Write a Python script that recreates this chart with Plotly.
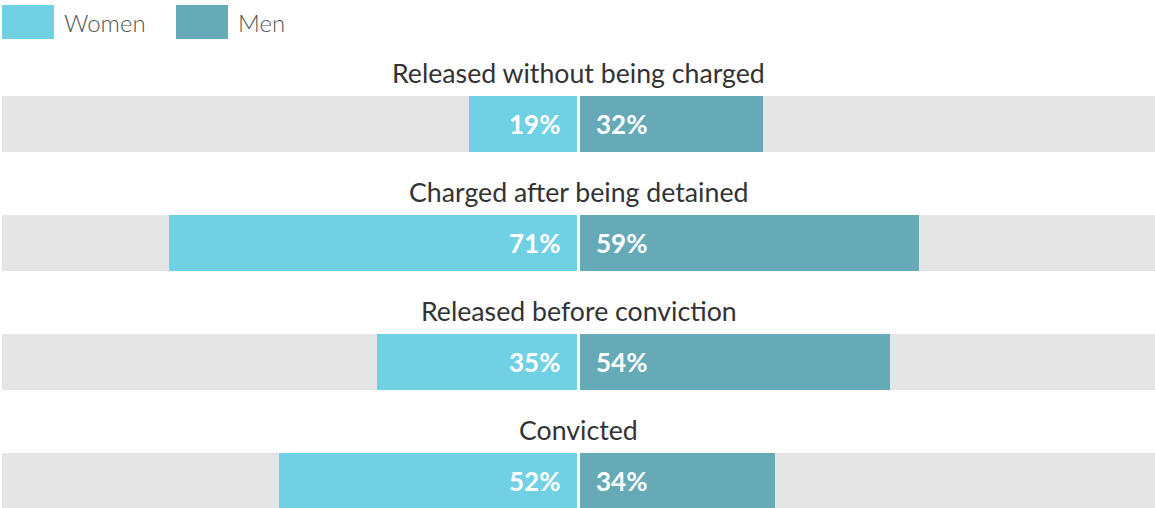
import plotly.graph_objects as go

categories = ["Released without being charged", "Charged after being detained",
              "Released before conviction", "Convicted"]
women = [19, 71, 35, 52]
men = [32, 59, 54, 34]
series_names = ["Women", "Men"]

C_WOMEN = "#71D1E4"
C_MEN = "#66A9B7"
C_BG = "#E5E5E5"

ypos = list(range(len(categories)))
BAR_W = 0.47

fig = go.Figure()
fig.add_trace(go.Bar(y=ypos, x=[200] * len(ypos), base=[-100] * len(ypos), orientation="h",
                     marker=dict(color=C_BG, line=dict(width=0)), width=BAR_W,
                     hoverinfo="skip", showlegend=False))
fig.add_trace(go.Bar(y=ypos, x=[-v for v in women], orientation="h", name=series_names[0],
                     marker=dict(color=C_WOMEN, line=dict(width=0)), width=BAR_W, showlegend=False))
fig.add_trace(go.Bar(y=ypos, x=men, orientation="h", name=series_names[1],
                     marker=dict(color=C_MEN, line=dict(width=0)), width=BAR_W, showlegend=False))

annotations = []
for i, cat in enumerate(categories):
    annotations.append(dict(x=0, y=i, xref="x", yref="y", text=cat, showarrow=False,
                            yshift=51, xanchor="center", yanchor="middle",
                            font=dict(family="Lato", size=26.7, color="#333333")))
    annotations.append(dict(x=0, y=i, xref="x", yref="y", text=f"{women[i]}%", showarrow=False,
                            xanchor="right", xshift=-17, yanchor="middle",
                            font=dict(family="Lato", size=26, color="white", weight=700)))
    annotations.append(dict(x=0, y=i, xref="x", yref="y", text=f"{men[i]}%", showarrow=False,
                            xanchor="left", xshift=15, yanchor="middle",
                            font=dict(family="Lato", size=26, color="white", weight=700)))

# legend (paper coords are relative to the plot area: x 2..1155, y 0..508)
W, H = 1155, 508
ML = 2
def px_x(p):
    return (p - ML) / (W - ML)
def px_y(p):
    return 1 - p / H

shapes = []
legend_items = [(series_names[0], C_WOMEN, 2), (series_names[1], C_MEN, 176)]
for name, col, x0 in legend_items:
    shapes.append(dict(type="rect", xref="paper", yref="paper", layer="above",
                       x0=px_x(x0), x1=px_x(x0 + 52), y0=px_y(39), y1=px_y(5),
                       fillcolor=col, line=dict(width=0)))
    annotations.append(dict(xref="paper", yref="paper", x=px_x(x0 + 60), y=px_y(22),
                            text=name, showarrow=False, xanchor="left", yanchor="middle",
                            font=dict(family="Lato", size=24, color="#555555", weight=300)))

# center white separator
shapes.append(dict(type="line", xref="x", yref="paper", x0=0, x1=0, y0=0, y1=1,
                   line=dict(color="white", width=3), layer="above"))

fig.update_layout(
    width=W, height=H,
    margin=dict(l=ML, r=0, t=0, b=0),
    paper_bgcolor="white", plot_bgcolor="white",
    barmode="overlay", bargap=0,
    xaxis=dict(range=[-100, 100], visible=False, fixedrange=True),
    yaxis=dict(range=[3.227, -1.042], visible=False, fixedrange=True),
    annotations=annotations, shapes=shapes,
    showlegend=False,
)

fig.write_html("out.html", config={"displayModeBar": False},
               post_script="document.body.style.margin='0';document.body.style.overflow='hidden';")
